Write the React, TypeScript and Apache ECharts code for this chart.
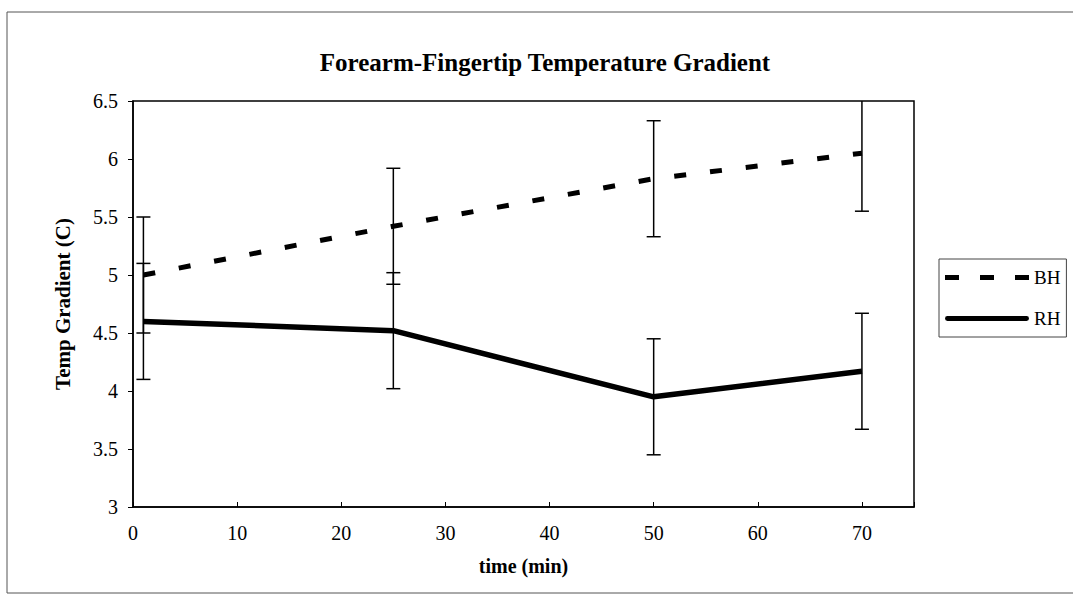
import React, { useEffect, useRef } from "react";
import * as echarts from "echarts";

const times = [1, 25, 50, 70];
const bhMean = [5.0, 5.42, 5.83, 6.05];
const bhErr = [0.5, 0.5, 0.5, 0.5];
const rhMean = [4.6, 4.52, 3.95, 4.17];
const rhErr = [0.5, 0.5, 0.5, 0.5];
const xTicks = [0, 10, 20, 30, 40, 50, 60, 70];

const FONT = '"Liberation Serif", "Times New Roman", serif';
const BH_ICON = "path://M0,0H14V5H0Z M35,0H49V5H35Z M70,0H84V5H70Z";
const RH_ICON = "path://M2,0H82A2.5,2.5,0,0,1,82,5H2A2.5,2.5,0,0,1,2,0Z";

export default function App() {
  const ref = useRef<HTMLDivElement>(null);
  useEffect(() => {
    if (!ref.current) return;
    const chart = echarts.init(ref.current, null, { renderer: "svg" });
    const bhData = times.map((t, i) => [t, bhMean[i]]);
    const rhData = times.map((t, i) => [t, rhMean[i]]);
    const errData = [
      ...times.map((t, i) => [t, bhMean[i] - bhErr[i], bhMean[i] + bhErr[i]]),
      ...times.map((t, i) => [t, rhMean[i] - rhErr[i], rhMean[i] + rhErr[i]]),
    ];
    const capHalf = 7;
    chart.setOption({
      animation: false,
      backgroundColor: "#fff",
      graphic: [
        {
          type: "rect",
          shape: { x: 7, y: 12, width: 1100, height: 581 },
          style: { fill: "none", stroke: "#555", lineWidth: 1 },
          silent: true,
        },
        {
          type: "text",
          x: 545,
          y: 62,
          style: {
            text: "Forearm-Fingertip Temperature Gradient",
            fontFamily: FONT,
            fontWeight: "bold",
            fontSize: 25,
            fill: "#000",
            align: "center",
            verticalAlign: "middle",
          },
        },
      ],
      grid: {
        left: 133,
        right: 159,
        top: 101,
        bottom: 91,
        show: true,
        borderColor: "#000",
        borderWidth: 1.5,
        backgroundColor: "transparent",
      },
      legend: {
        orient: "vertical",
        left: 939,
        top: 259,
        itemWidth: 84,
        itemHeight: 6,
        itemGap: 22,
        padding: [9, 6, 9, 6],
        borderColor: "#444",
        borderWidth: 1,
        itemStyle: { borderWidth: 0 },
        textStyle: { fontFamily: FONT, fontSize: 19, color: "#000" },
        data: [
          { name: "BH", icon: BH_ICON },
          { name: "RH", icon: RH_ICON },
        ],
      },
      xAxis: {
        type: "value",
        min: 0,
        max: 75,
        interval: 10,
        name: "time (min)",
        nameLocation: "middle",
        nameGap: 49,
        nameTextStyle: { fontFamily: FONT, fontWeight: "bold", fontSize: 20, color: "#000" },
        axisLine: { show: true, lineStyle: { color: "#000", width: 1.5 } },
        axisTick: { show: true, inside: true, length: 5, lineStyle: { color: "#000" } },
        axisLabel: {
          fontFamily: FONT,
          fontSize: 20,
          color: "#000",
          margin: 16,
          formatter: (v: number) => (xTicks.includes(v) ? String(v) : ""),
        },
        splitLine: { show: false },
      },
      yAxis: {
        type: "value",
        min: 3,
        max: 6.5,
        interval: 0.5,
        name: "Temp Gradient (C)",
        nameLocation: "middle",
        nameGap: 60,
        nameTextStyle: { fontFamily: FONT, fontWeight: "bold", fontSize: 21, color: "#000" },
        axisLine: { show: true, lineStyle: { color: "#000", width: 1.5 } },
        axisTick: { show: true, inside: false, length: 5, lineStyle: { color: "#000" } },
        axisLabel: { fontFamily: FONT, fontSize: 20, color: "#000", margin: 15 },
        splitLine: { show: false },
      },
      series: [
        {
          name: "BH",
          type: "line",
          data: bhData,
          symbol: "none",
          color: "#000",
          lineStyle: { color: "#000", width: 5, type: [12, 24] },
          z: 2,
        },
        {
          name: "RH",
          type: "line",
          data: rhData,
          symbol: "none",
          color: "#000",
          lineStyle: { color: "#000", width: 5.5, type: "solid" },
          z: 2,
        },
        {
          name: "err",
          type: "custom",
          clip: true,
          data: errData,
          encode: { x: 0, y: [1, 2] },
          z: 3,
          renderItem: (params: any, api: any) => {
            const x = api.value(0);
            const lo = api.coord([x, api.value(1)]);
            const hi = api.coord([x, api.value(2)]);
            const style = { stroke: "#000", lineWidth: 1.5 };
            return {
              type: "group",
              children: [
                { type: "line", shape: { x1: lo[0], y1: lo[1], x2: hi[0], y2: hi[1] }, style },
                { type: "line", shape: { x1: lo[0] - capHalf, y1: lo[1], x2: lo[0] + capHalf, y2: lo[1] }, style },
                { type: "line", shape: { x1: hi[0] - capHalf, y1: hi[1], x2: hi[0] + capHalf, y2: hi[1] }, style },
              ],
            };
          },
        },
      ],
    });
    return () => chart.dispose();
  }, []);
  return (
    <div
      ref={ref}
      style={{ position: "fixed", left: 0, top: 0, width: 1073, height: 598 }}
    />
  );
}
